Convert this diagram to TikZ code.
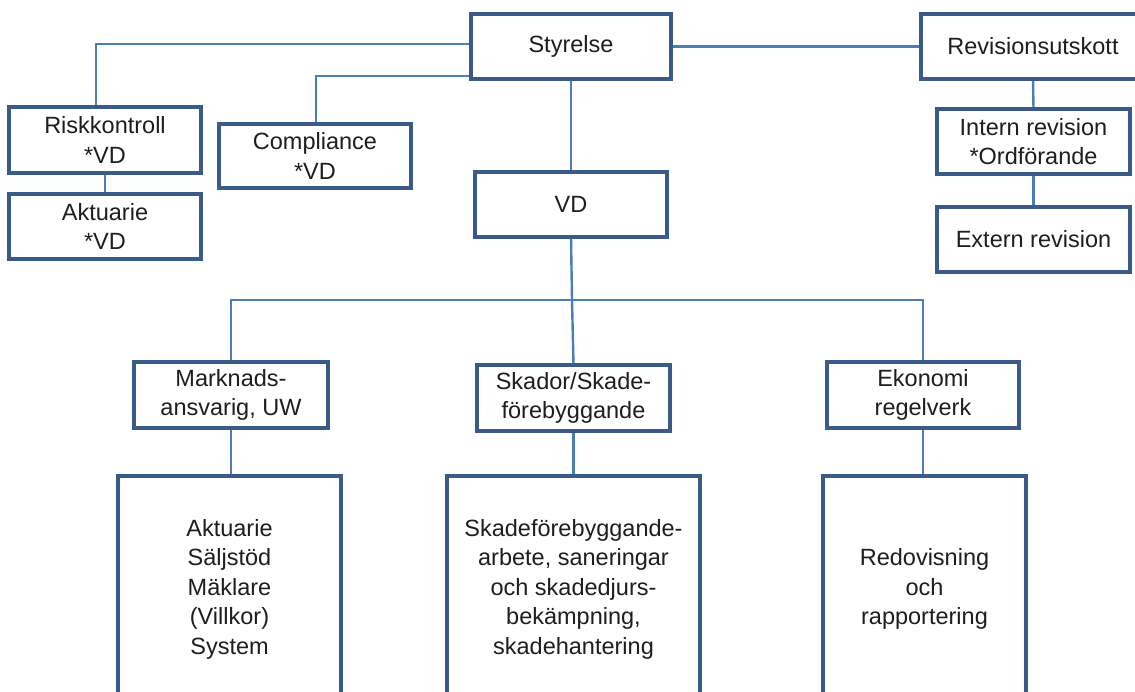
\documentclass[tikz,border=0pt]{standalone}
\usepackage{fontspec}
\setmainfont{Liberation Sans}
\definecolor{linkblue}{HTML}{4A7EBB}
\definecolor{boxblue}{HTML}{3A5A88}
\definecolor{txt}{HTML}{1E1E1E}
\begin{document}
\begin{tikzpicture}[x=1pt,y=-1pt,
  box/.style={draw=boxblue,line width=2.6pt,fill=white,rectangle,inner sep=0pt,
    align=center,text=txt,font=\fontsize{23.5}{29.5}\selectfont},
  link/.style={draw=linkblue,line width=2.4pt}]
\useasboundingbox (0,0) rectangle (1135,692);
\clip (0,0) rectangle (1135,692);
% coordinates for connector bends
\coordinate (rk) at (96,44);
\coordinate (cp) at (316,76);
\coordinate (hb) at (572,300);
% links first
\node[box,minimum width=198pt,minimum height=63pt] (sty) at (571,46.5) {Styrelse};
\node[box,minimum width=222pt,minimum height=63pt] (rev) at (1033,46.5) {Revisionsutskott};
\node[box,minimum width=191pt,minimum height=63pt] (int) at (1033.5,141.5) {Intern revision\\*Ordförande};
\node[box,minimum width=191pt,minimum height=64pt] (ext) at (1033.5,239.5) {Extern revision};
\node[box,minimum width=190pt,minimum height=64pt] (risk) at (105,140) {Riskkontroll\\*VD};
\node[box,minimum width=190pt,minimum height=63pt] (akt) at (105,226.5) {Aktuarie\\*VD};
\node[box,minimum width=190pt,minimum height=62pt] (comp) at (315,156) {Compliance\\*VD};
\node[box,minimum width=190pt,minimum height=63pt] (vd) at (571,204.5) {VD};
\node[box,minimum width=192pt,minimum height=64pt] (mark) at (231,395) {Marknads-\\ansvarig, UW};
\node[box,minimum width=191pt,minimum height=64pt] (skad) at (573.5,398) {Skador/Skade-\\förebyggande};
\node[box,minimum width=190pt,minimum height=64pt] (eko) at (923,395) {Ekonomi\\regelverk};
\node[box,minimum width=221pt,minimum height=224pt] (b1) at (229.5,589) {Aktuarie\\Säljstöd\\Mäklare\\(Villkor)\\System};
\node[box,minimum width=251pt,minimum height=224pt] (b2) at (573.5,589) {Skadeförebyggande-\\arbete, saneringar\\och skadedjurs-\\bekämpning,\\skadehantering};
\node[box,minimum width=201pt,minimum height=224pt] (b3) at (924.5,589) {Redovisning\\och\\rapportering};
\begin{scope}[on background layer/.try]
\end{scope}
% connectors
\draw[link] (sty.west |- rk) -| (rk |- risk.north);
\draw[link] (sty.west |- cp) -| (cp |- comp.north);
\draw[link] (sty.east) -- (rev.west);
\draw[link] (rev.south) -- (int.north);
\draw[link] (int.south) -- (ext.north);
\draw[link] (risk.south) -- (akt.north);
\draw[link] (sty.south) -- (vd.south |- sty.south) -- (vd.north);
\draw[link] (vd.south) -- (hb);
\draw[link] (hb) -- (skad.north);
\draw[link] (hb) -| (mark.north);
\draw[link] (hb) -| (eko.north);
\draw[link] (mark.south) -- (b1.north -| mark.south);
\draw[link] (skad.south) -- (b2.north);
\draw[link] (eko.south) -- (b3.north -| eko.south);
% redraw box borders on top of connector ends
\foreach \n in {sty,rev,int,ext,risk,akt,comp,vd,mark,skad,eko,b1,b2,b3}
  \draw[draw=boxblue,line width=2.6pt] (\n.north west) rectangle (\n.south east);
\end{tikzpicture}
\end{document}
